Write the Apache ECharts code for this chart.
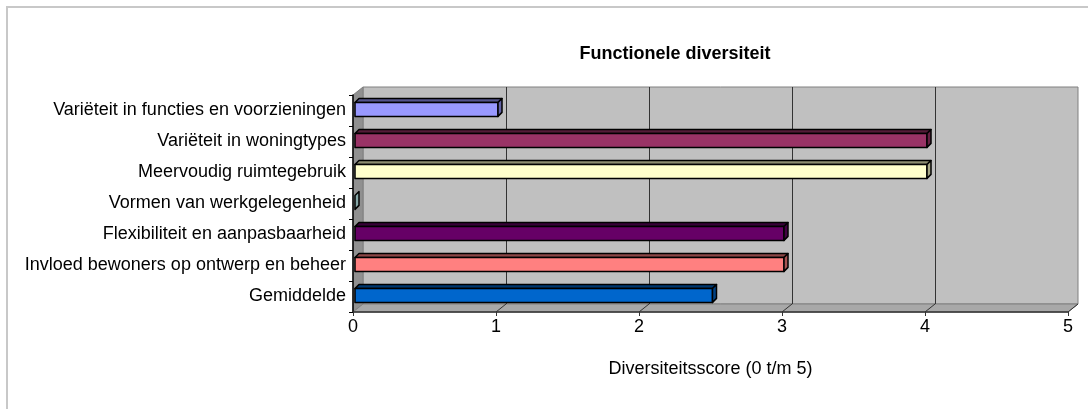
<!DOCTYPE html>
<html>
<head>
<meta charset="utf-8">
<script src="https://cdn.jsdelivr.net/npm/echarts@6/dist/echarts.min.js"></script>
<style>html,body{margin:0;padding:0;background:#fff;}#c{width:1088px;height:409px;}</style>
</head>
<body>
<div id="c"></div>
<script>
// ---- data ----
const categories = [
  'Variëteit in functies en voorzieningen',
  'Variëteit in woningtypes',
  'Meervoudig ruimtegebruik',
  'Vormen van werkgelegenheid',
  'Flexibiliteit en aanpasbaarheid',
  'Invloed bewoners op ontwerp en beheer',
  'Gemiddelde'
];
const values = [1, 4, 4, 0, 3, 3, 2.5];
const barColors = ['#9999FF', '#993366', '#FFFFCC', '#CCFFFF', '#660066', '#FF8080', '#0066CC'];
const xTicks = [0, 1, 2, 3, 4, 5];
const titleText = 'Functionele diversiteit';
const xAxisName = 'Diversiteitsscore (0 t/m 5)';

const FONT = 'Liberation Sans, Arial, sans-serif';
const FS = 18;
const DX = 10, DY = 8; // wall depth offset

function shade(hex, f) {
  const n = parseInt(hex.slice(1), 16);
  const r = Math.round(((n >> 16) & 255) * f), g = Math.round(((n >> 8) & 255) * f), b = Math.round((n & 255) * f);
  return 'rgb(' + r + ',' + g + ',' + b + ')';
}

const chart = echarts.init(document.getElementById('c'), null, {renderer: 'canvas'});

function renderWalls(params, api) {
  const cs = params.coordSys;
  const L = cs.x, T = cs.y, R = cs.x + cs.width, B = cs.y + cs.height;
  const children = [];
  children.push({type: 'rect', shape: {x: L + DX, y: T - DY, width: R - L, height: B - T}, style: {fill: '#C0C0C0', stroke: '#808080', lineWidth: 1}});
  children.push({type: 'polygon', shape: {points: [[L, T], [L + DX, T - DY], [L + DX, B - DY], [L, B]]}, style: {fill: '#909090', stroke: '#808080', lineWidth: 1}});
  children.push({type: 'polygon', shape: {points: [[L, B], [L + DX, B - DY], [R + DX, B - DY], [R, B]]}, style: {fill: '#A8A8A8', stroke: '#808080', lineWidth: 1}});
  xTicks.forEach(function (t) {
    const x = api.coord([t, 0])[0];
    if (t > 0 && t < xTicks[xTicks.length - 1]) {
      children.push({type: 'line', shape: {x1: x + DX + 0.5, y1: T - DY, x2: x + DX + 0.5, y2: B - DY}, style: {stroke: '#333333', lineWidth: 1}});
    }
    if (t > 0) {
      children.push({type: 'line', shape: {x1: x, y1: B, x2: x + DX, y2: B - DY}, style: {stroke: '#333333', lineWidth: 1}});
    }
  });
  return {type: 'group', children: children};
}

function renderBar(params, api) {
  const v = api.value(0), c = api.value(1);
  const p0 = api.coord([0, c]);
  const p1 = api.coord([v, c]);
  const band = api.size([0, 1])[1];
  const cy = p0[1];
  const x0 = p0[0] + 2, x1 = p1[0] + 2;
  const yt = cy - band * 0.26, yb = cy + band * 0.19;
  const dx = 4, dy = 4;
  const col = barColors[params.dataIndex];
  const st = {stroke: '#000', lineWidth: 1.5, lineJoin: 'round'};
  const children = [];
  if (x1 - x0 > 0.5) {
    children.push({type: 'polygon', shape: {points: [[x0, yt], [x0 + dx, yt - dy], [x1 + dx, yt - dy], [x1, yt]]}, style: Object.assign({fill: shade(col, 0.55)}, st)});
    children.push({type: 'rect', shape: {x: x0, y: yt, width: x1 - x0, height: yb - yt}, style: Object.assign({fill: col}, st)});
  }
  children.push({type: 'polygon', shape: {points: [[x1, yt], [x1 + dx, yt - dy], [x1 + dx, yb - dy], [x1, yb]]}, style: Object.assign({fill: shade(col, 0.65)}, st)});
  return {type: 'group', children: children};
}

const option = {
  backgroundColor: '#fff',
  animation: false,
  textStyle: {fontFamily: FONT},
  title: {
    text: titleText, left: 670, top: 40, textAlign: 'center',
    textStyle: {fontFamily: FONT, fontSize: FS, fontWeight: 'bold', color: '#000'}
  },
  graphic: [{type: 'rect', shape: {x: 7, y: 7, width: 1200, height: 600}, style: {fill: 'none', stroke: '#C8C8C8', lineWidth: 2}, z: -10}],
  grid: {left: 353, right: 20, top: 95, bottom: 97, containLabel: false},
  xAxis: {
    type: 'value', min: 0, max: 5, interval: 1, z: 10,
    name: xAxisName, nameLocation: 'middle', nameGap: 48,
    nameTextStyle: {fontFamily: FONT, fontSize: FS, color: '#000'},
    axisLine: {show: true, lineStyle: {color: '#333', width: 1.5}},
    axisTick: {show: true, length: 4, lineStyle: {color: '#333'}},
    axisLabel: {fontFamily: FONT, fontSize: FS, color: '#000', margin: 6},
    splitLine: {show: false}
  },
  yAxis: {
    type: 'category', data: categories, inverse: true, z: 10,
    axisLine: {show: true, lineStyle: {color: '#000', width: 1.5}},
    axisTick: {show: true, length: 4, lineStyle: {color: '#000'}},
    axisLabel: {fontFamily: FONT, fontSize: FS, color: '#000', margin: 7},
    splitLine: {show: false}
  },
  series: [
    {type: 'custom', renderItem: renderWalls, data: [[0, 0]], encode: {x: 0, y: 1}, z: 1, silent: true, clip: false},
    {type: 'custom', renderItem: renderBar, data: values.map(function (v, i) { return [v, i]; }), encode: {x: 0, y: 1}, z: 5, clip: false}
  ]
};
chart.setOption(option);
</script>
</body>
</html>
